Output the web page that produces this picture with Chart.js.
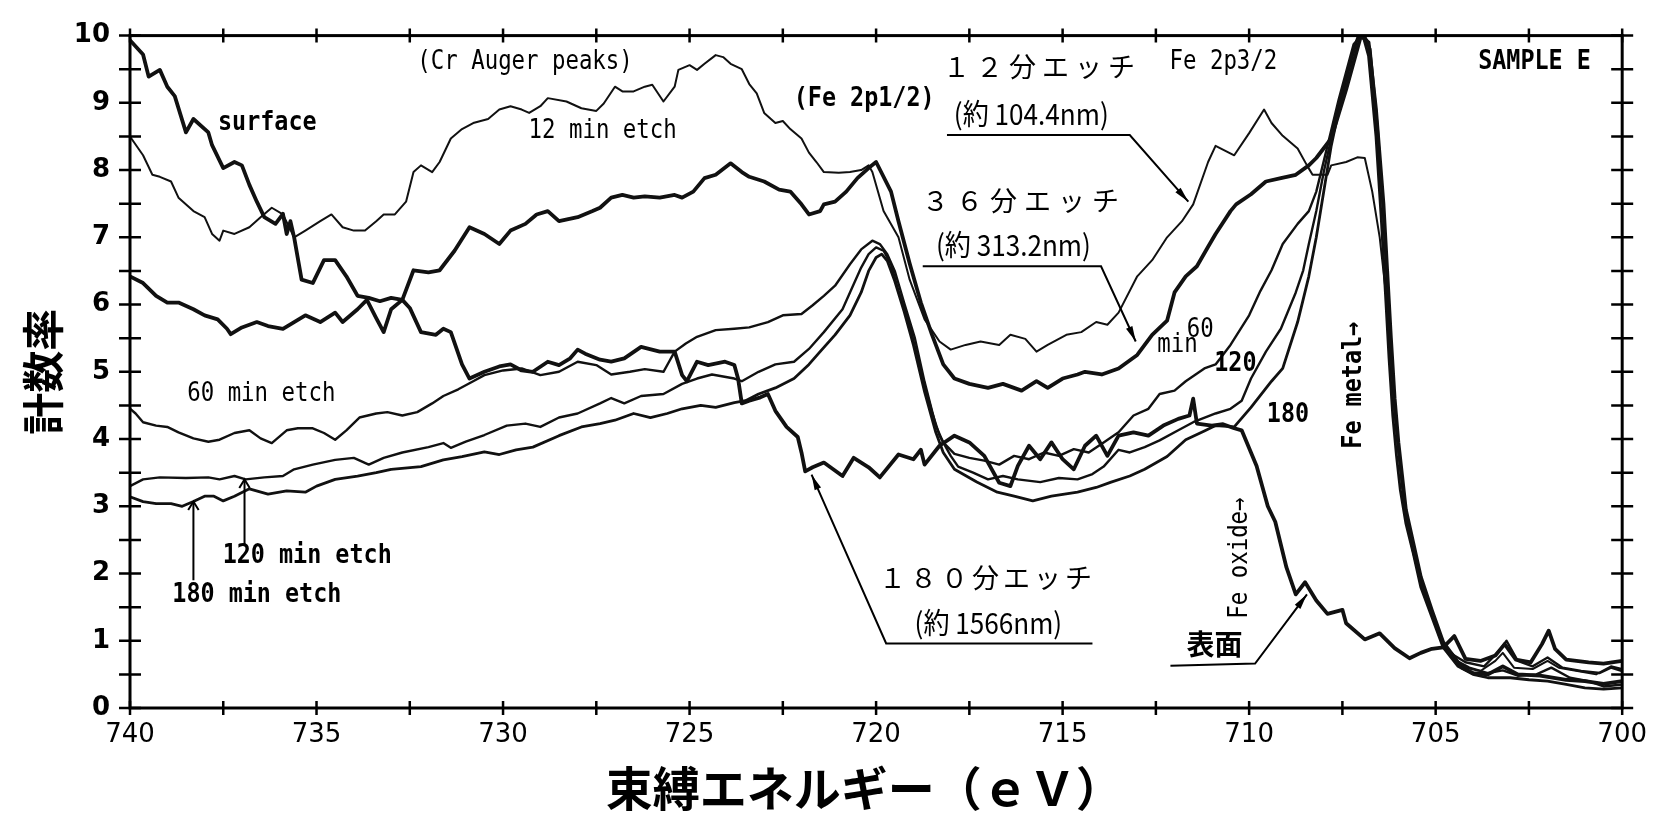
<!DOCTYPE html>
<html lang="ja">
<head>
<meta charset="UTF-8">
<title>SAMPLE E - Fe 2p XPS depth profile</title>
<script src="https://cdn.jsdelivr.net/npm/chart.js"></script>
<style>
    html, body { margin: 0; padding: 0; background: #fff; }
    #xps-chart { display: block; }
</style>
</head>
<body>
<canvas id="xps-chart" width="1659" height="816"></canvas>
<script>
    // binding energy (eV) and count rate
    const surfaceEv = [740.0, 739.65, 739.5, 739.2, 739.0, 738.8, 738.5, 738.3, 737.9, 737.8, 737.5, 737.2, 737.0, 736.8, 736.6, 736.4, 736.1, 735.9, 735.8, 735.7, 735.6, 735.4, 735.1, 734.8, 734.5, 734.2, 733.9, 733.6, 733.3, 733.0, 732.7, 732.5, 732.2, 731.8, 731.6, 731.4, 731.1, 730.9, 730.5, 730.1, 729.8, 729.5, 729.2, 728.8, 728.5, 728.2, 728.0, 727.8, 727.4, 727.1, 726.75, 726.3, 725.8, 725.4, 725.2, 725.07, 724.8, 724.5, 724.05, 723.8, 723.7, 723.6, 723.4, 723.1, 722.9, 722.7, 722.4, 722.1, 722.0, 721.9, 721.7, 721.4, 720.9, 720.6, 720.2, 719.9, 719.4, 719.0, 718.8, 718.7, 718.3, 717.9, 717.5, 717.1, 716.7, 716.4, 716.2, 715.9, 715.6, 715.3, 715.0, 714.7, 714.4, 714.1, 713.8, 713.5, 713.1, 712.7, 712.3, 711.9, 711.6, 711.5, 711.4, 711.0, 710.7, 710.4, 710.2, 709.8, 709.5, 709.3, 709.0, 708.75, 708.5, 708.2, 707.9, 707.5, 707.4, 706.9, 706.5, 706.1, 705.7, 705.4, 705.1, 704.8, 704.5, 704.2, 703.8, 703.4, 703.15, 702.85, 702.45, 702.15, 701.97, 701.8, 701.5, 700.9, 700.5, 700.0];
    const surfaceCounts = [9.93, 9.72, 9.39, 9.49, 9.24, 9.1, 8.56, 8.76, 8.56, 8.37, 8.03, 8.12, 8.07, 7.78, 7.53, 7.3, 7.2, 7.35, 7.05, 7.24, 7.0, 6.37, 6.32, 6.66, 6.66, 6.42, 6.13, 6.1, 6.05, 6.1, 6.07, 5.95, 5.59, 5.55, 5.64, 5.59, 5.11, 4.9, 5.0, 5.08, 5.11, 5.02, 5.0, 5.15, 5.1, 5.2, 5.33, 5.27, 5.18, 5.15, 5.2, 5.37, 5.3, 5.3, 4.95, 4.86, 5.15, 5.1, 5.15, 5.1, 4.9, 4.53, 4.57, 4.62, 4.67, 4.42, 4.18, 4.03, 3.8, 3.52, 3.58, 3.65, 3.45, 3.72, 3.58, 3.43, 3.77, 3.7, 3.84, 3.62, 3.9, 4.05, 3.95, 3.75, 3.35, 3.3, 3.6, 3.9, 3.7, 3.95, 3.7, 3.55, 3.9, 4.05, 3.75, 4.05, 4.1, 4.05, 4.2, 4.3, 4.35, 4.6, 4.23, 4.2, 4.22, 4.16, 4.13, 3.6, 3.0, 2.77, 2.09, 1.69, 1.87, 1.6, 1.4, 1.46, 1.26, 1.02, 1.11, 0.89, 0.74, 0.82, 0.88, 0.9, 1.07, 0.73, 0.7, 0.78, 0.95, 0.72, 0.68, 0.95, 1.15, 0.88, 0.72, 0.68, 0.66, 0.7];

    const etch12Ev = [740.0, 739.65, 739.4, 739.2, 738.9, 738.7, 738.3, 738.0, 737.8, 737.6, 737.5, 737.2, 736.8, 736.5, 736.2, 735.9, 735.6, 735.3, 734.9, 734.6, 734.3, 734.0, 733.7, 733.4, 733.2, 732.9, 732.6, 732.4, 732.2, 731.9, 731.7, 731.4, 731.1, 730.8, 730.4, 730.1, 729.8, 729.5, 729.3, 729.0, 728.8, 728.3, 727.9, 727.5, 727.3, 727.0, 726.8, 726.5, 726.2, 726.0, 725.7, 725.4, 725.3, 725.0, 724.8, 724.6, 724.3, 724.1, 723.9, 723.6, 723.4, 723.2, 723.0, 722.7, 722.5, 722.3, 722.0, 721.8, 721.6, 721.4, 721.0, 720.7, 720.4, 720.2, 720.1, 719.8, 719.4, 719.1, 718.7, 718.3, 718.0, 717.6, 717.2, 716.7, 716.4, 716.0, 715.7, 715.4, 714.9, 714.5, 714.1, 713.8, 713.5, 713.0, 712.6, 712.2, 711.8, 711.5, 711.1, 710.9, 710.4, 710.0, 709.6, 709.4, 709.1, 708.7, 708.45, 708.3, 707.9, 707.8, 707.4, 707.1, 706.9, 706.7, 706.5, 706.3, 706.2, 706.1, 706.0, 705.9, 705.8, 705.6, 705.4, 705.1, 704.8, 704.5, 704.2, 703.8, 703.4, 703.2, 702.9, 702.4, 702.0, 701.7, 701.2, 700.7, 700.3, 700.0];
    const etch12Counts = [8.5, 8.22, 7.93, 7.9, 7.83, 7.59, 7.39, 7.3, 7.05, 6.95, 7.1, 7.05, 7.15, 7.3, 7.44, 7.34, 7.0, 7.1, 7.24, 7.34, 7.15, 7.1, 7.1, 7.24, 7.34, 7.34, 7.53, 7.97, 8.07, 7.97, 8.12, 8.47, 8.61, 8.7, 8.76, 8.9, 8.95, 8.9, 8.85, 8.95, 9.07, 9.02, 8.92, 8.88, 8.99, 9.24, 9.17, 9.17, 9.24, 9.27, 9.02, 9.24, 9.49, 9.56, 9.49, 9.58, 9.71, 9.68, 9.58, 9.5, 9.28, 9.14, 8.85, 8.7, 8.73, 8.61, 8.47, 8.26, 8.12, 7.97, 7.96, 7.97, 8.0, 8.07, 7.97, 7.39, 7.0, 6.37, 5.78, 5.45, 5.33, 5.4, 5.45, 5.4, 5.55, 5.49, 5.3, 5.4, 5.55, 5.59, 5.74, 5.7, 5.88, 6.42, 6.66, 7.0, 7.24, 7.49, 8.12, 8.36, 8.22, 8.55, 8.9, 8.7, 8.51, 8.32, 8.07, 7.93, 7.93, 8.07, 8.12, 8.19, 8.18, 7.68, 7.0, 6.0, 5.2, 4.4, 3.8, 3.3, 2.8, 2.3, 1.85, 1.4, 0.95, 0.72, 0.6, 0.55, 0.7, 0.82, 0.6, 0.58, 0.7, 0.6, 0.55, 0.5, 0.62, 0.58];

    const etch36Ev = [740.0, 739.65, 739.3, 739.0, 738.7, 738.3, 738.0, 737.65, 737.4, 737.3, 737.0, 736.6, 736.3, 735.9, 735.6, 735.3, 734.9, 734.5, 734.3, 733.9, 733.65, 733.4, 733.2, 733.0, 732.7, 732.4, 732.0, 731.7, 731.3, 730.9, 730.5, 730.1, 729.8, 729.4, 729.1, 728.8, 728.5, 728.0, 727.6, 727.4, 727.1, 726.8, 726.5, 726.2, 725.8, 725.4, 725.2, 724.9, 724.6, 724.3, 723.9, 723.6, 723.4, 723.0, 722.6, 722.3, 722.0, 721.8, 721.5, 721.4, 721.1, 720.8, 720.5, 720.2, 720.0, 719.6, 719.4, 719.1, 718.8, 718.5, 718.2, 717.9, 717.5, 717.0, 716.6, 716.1, 715.7, 715.4, 715.0, 714.6, 714.4, 713.95, 713.5, 713.0, 712.6, 712.2, 712.0, 711.7, 711.4, 711.1, 710.9, 710.5, 710.35, 709.95, 709.55, 709.15, 708.75, 708.4, 708.2, 707.8, 707.4, 707.0, 706.8, 706.6, 706.4, 706.3, 706.2, 706.1, 706.0, 705.9, 705.8, 705.6, 705.4, 705.1, 704.8, 704.3, 704.0, 703.6, 703.2, 702.8, 702.2, 701.5, 701.0, 700.5, 700.0];
    const etch36Counts = [6.42, 6.32, 6.13, 6.03, 6.03, 5.93, 5.84, 5.78, 5.64, 5.56, 5.66, 5.74, 5.68, 5.64, 5.74, 5.84, 5.74, 5.88, 5.74, 5.93, 6.07, 5.8, 5.59, 5.93, 6.07, 6.51, 6.48, 6.51, 6.8, 7.15, 7.05, 6.9, 7.1, 7.2, 7.34, 7.39, 7.24, 7.3, 7.39, 7.44, 7.59, 7.63, 7.59, 7.61, 7.59, 7.63, 7.59, 7.68, 7.88, 7.93, 8.1, 7.97, 7.9, 7.83, 7.71, 7.68, 7.49, 7.34, 7.39, 7.49, 7.53, 7.68, 7.88, 8.03, 8.12, 7.68, 7.24, 6.61, 6.03, 5.55, 5.11, 4.9, 4.82, 4.76, 4.82, 4.72, 4.86, 4.76, 4.9, 4.96, 5.0, 4.96, 5.05, 5.25, 5.55, 5.76, 6.18, 6.42, 6.57, 6.86, 7.05, 7.39, 7.49, 7.64, 7.83, 7.88, 7.93, 8.07, 8.18, 8.47, 9.2, 10.0, 9.9, 8.9, 7.5, 6.5, 5.5, 4.6, 3.95, 3.45, 2.95, 2.45, 1.95, 1.45, 0.98, 0.6, 0.52, 0.5, 0.62, 0.5, 0.48, 0.42, 0.4, 0.36, 0.4];

    const etch60Ev = [740.0, 739.85, 739.65, 739.3, 739.0, 738.7, 738.3, 737.9, 737.6, 737.2, 736.8, 736.5, 736.2, 735.8, 735.5, 735.1, 734.8, 734.5, 734.2, 733.85, 733.4, 733.1, 732.7, 732.3, 731.9, 731.6, 731.2, 730.8, 730.5, 730.0, 729.5, 729.0, 728.5, 728.0, 727.5, 727.1, 726.6, 726.2, 725.7, 725.55, 725.4, 725.1, 724.8, 724.3, 723.8, 723.4, 722.9, 722.5, 722.0, 721.7, 721.4, 721.1, 720.7, 720.4, 720.1, 719.9, 719.7, 719.5, 719.25, 718.96, 718.7, 718.4, 718.2, 717.9, 717.5, 717.1, 716.7, 716.3, 715.9, 715.5, 715.1, 714.7, 714.3, 713.9, 713.5, 713.1, 712.7, 712.4, 712.0, 711.7, 711.2, 710.9, 710.5, 710.0, 709.7, 709.4, 709.1, 708.7, 708.4, 708.2, 707.9, 707.6, 707.2, 707.0, 706.8, 706.6, 706.4, 706.3, 706.2, 706.1, 706.0, 705.9, 705.8, 705.6, 705.4, 705.1, 704.8, 704.5, 704.2, 703.7, 703.3, 703.1, 702.8, 702.4, 702.0, 701.6, 701.1, 700.6, 700.3, 700.0];
    const etch60Counts = [4.45, 4.38, 4.25, 4.2, 4.18, 4.1, 4.01, 3.96, 3.99, 4.09, 4.13, 4.01, 3.94, 4.13, 4.16, 4.16, 4.09, 3.99, 4.13, 4.32, 4.38, 4.4, 4.35, 4.4, 4.53, 4.64, 4.74, 4.86, 4.95, 5.02, 5.05, 4.95, 5.0, 5.15, 5.1, 4.96, 5.0, 5.04, 5.0, 5.15, 5.3, 5.42, 5.52, 5.62, 5.64, 5.66, 5.74, 5.84, 5.86, 5.99, 6.13, 6.28, 6.6, 6.82, 6.95, 6.9, 6.75, 6.5, 6.03, 5.5, 4.85, 4.2, 3.95, 3.78, 3.72, 3.68, 3.62, 3.75, 3.7, 3.8, 3.75, 3.85, 3.8, 3.95, 4.1, 4.35, 4.45, 4.67, 4.72, 4.86, 5.05, 5.11, 5.4, 5.84, 6.2, 6.51, 6.9, 7.2, 7.39, 7.68, 8.36, 9.05, 9.87, 10.0, 9.85, 8.8, 7.4, 6.4, 5.4, 4.5, 3.9, 3.4, 2.9, 2.4, 1.9, 1.42, 0.95, 0.78, 0.68, 0.62, 0.85, 1.0, 0.7, 0.62, 0.75, 0.6, 0.55, 0.52, 0.6, 0.55];

    const etch120Ev = [740.0, 739.65, 739.2, 738.5, 737.9, 737.6, 737.2, 736.9, 736.4, 735.9, 735.6, 735.1, 734.5, 734.0, 733.6, 733.2, 732.7, 732.0, 731.6, 731.4, 731.0, 730.5, 729.9, 729.4, 729.0, 728.5, 728.0, 727.4, 727.1, 726.75, 726.3, 725.7, 725.2, 724.8, 724.4, 723.8, 723.6, 723.15, 722.7, 722.2, 721.8, 721.4, 720.9, 720.7, 720.4, 720.2, 720.0, 719.8, 719.6, 719.4, 719.1, 718.8, 718.5, 718.3, 718.0, 717.8, 717.4, 717.0, 716.6, 716.2, 715.6, 715.1, 714.6, 714.2, 713.9, 713.5, 713.2, 712.8, 712.4, 711.9, 711.5, 710.9, 710.5, 710.2, 709.95, 709.55, 709.15, 708.75, 708.55, 708.4, 708.2, 708.0, 707.8, 707.5, 707.1, 706.9, 706.75, 706.55, 706.4, 706.3, 706.2, 706.1, 706.0, 705.9, 705.8, 705.6, 705.4, 705.1, 704.8, 704.5, 704.1, 703.6, 703.2, 702.8, 702.3, 701.9, 701.4, 700.9, 700.5, 700.0];
    const etch120Counts = [3.3, 3.4, 3.43, 3.42, 3.43, 3.4, 3.45, 3.4, 3.43, 3.45, 3.55, 3.62, 3.69, 3.72, 3.62, 3.72, 3.8, 3.88, 3.94, 3.87, 3.96, 4.06, 4.2, 4.23, 4.18, 4.32, 4.38, 4.53, 4.61, 4.53, 4.64, 4.67, 4.82, 4.9, 4.96, 4.9, 4.86, 5.0, 5.11, 5.15, 5.34, 5.59, 5.93, 6.18, 6.55, 6.75, 6.85, 6.8, 6.6, 6.2, 5.7, 5.0, 4.4, 4.05, 3.75, 3.59, 3.5, 3.4, 3.45, 3.4, 3.36, 3.42, 3.4, 3.48, 3.59, 3.84, 3.8, 3.88, 3.98, 4.13, 4.25, 4.38, 4.45, 4.57, 4.9, 5.3, 5.64, 6.18, 6.51, 6.9, 7.39, 7.97, 8.47, 9.2, 9.95, 10.0, 9.8, 8.6, 7.3, 6.3, 5.3, 4.45, 3.85, 3.35, 2.85, 2.35, 1.85, 1.38, 0.92, 0.72, 0.6, 0.52, 0.56, 0.48, 0.5, 0.6, 0.45, 0.4, 0.32, 0.35];

    const etch180Ev = [740.0, 739.65, 739.3, 738.9, 738.6, 738.3, 738.0, 737.75, 737.5, 737.2, 736.8, 736.3, 735.8, 735.3, 735.0, 734.5, 733.9, 733.4, 733.0, 732.2, 731.6, 731.1, 730.5, 730.1, 729.65, 729.2, 728.5, 727.9, 727.4, 727.0, 726.5, 726.05, 725.6, 725.2, 724.7, 724.3, 723.8, 723.5, 723.15, 722.7, 722.2, 721.8, 721.5, 721.1, 720.7, 720.4, 720.2, 720.0, 719.85, 719.7, 719.5, 719.25, 719.0, 718.7, 718.4, 718.2, 717.9, 717.3, 716.75, 716.3, 715.8, 715.3, 714.6, 714.1, 713.7, 713.2, 712.8, 712.2, 711.7, 711.2, 710.9, 710.4, 709.95, 709.4, 709.1, 708.7, 708.4, 708.2, 708.0, 707.8, 707.5, 707.1, 706.95, 706.8, 706.6, 706.45, 706.35, 706.25, 706.15, 706.05, 705.95, 705.8, 705.6, 705.4, 705.1, 704.8, 704.4, 704.0, 703.6, 703.0, 702.5, 702.0, 701.5, 701.0, 700.5, 700.0];
    const etch180Counts = [3.14, 3.07, 3.04, 3.04, 3.0, 3.07, 3.15, 3.15, 3.08, 3.15, 3.26, 3.18, 3.23, 3.21, 3.3, 3.4, 3.45, 3.5, 3.55, 3.59, 3.69, 3.74, 3.81, 3.77, 3.84, 3.88, 4.05, 4.18, 4.23, 4.28, 4.38, 4.32, 4.38, 4.45, 4.5, 4.47, 4.54, 4.57, 4.67, 4.76, 4.9, 5.11, 5.3, 5.55, 5.84, 6.18, 6.5, 6.7, 6.75, 6.65, 6.35, 5.9, 5.4, 4.7, 4.1, 3.8, 3.55, 3.36, 3.21, 3.15, 3.08, 3.15, 3.21, 3.28, 3.36, 3.45, 3.55, 3.74, 3.99, 4.12, 4.2, 4.18, 4.47, 4.86, 5.05, 5.74, 6.42, 7.0, 7.68, 8.36, 9.14, 9.96, 10.0, 9.7, 8.5, 7.2, 6.2, 5.2, 4.35, 3.75, 3.25, 2.75, 2.3, 1.8, 1.35, 0.9, 0.62, 0.5, 0.45, 0.45, 0.42, 0.4, 0.35, 0.3, 0.28, 0.3];

    const seriesNames = ['surface', '12 min etch', '36 min etch', '60 min etch', '120 min etch', '180 min etch'];
    const xTitle = '束縛エネルギー（ｅＶ）　';
    const yTitle = '計数率';

    // annotation texts (placed in data units)
    const notes = [
        { text: '(Cr Auger peaks)', ev: 729.41, v: 9.61, kind: 'mono' },
        { text: 'surface', ev: 736.32, v: 8.7, kind: 'monoBold' },
        { text: '12 min etch', ev: 727.33, v: 8.58, kind: 'mono' },
        { text: '(Fe 2p1/2)', ev: 720.32, v: 9.06, kind: 'monoBold' },
        { text: 'Fe 2p3/2', ev: 710.69, v: 9.6, kind: 'mono' },
        { text: 'SAMPLE E', ev: 702.35, v: 9.6, kind: 'monoBold' },
        { text: '60 min etch', ev: 736.48, v: 4.67, kind: 'mono' },
        { text: '120 min etch', ev: 735.25, v: 2.26, kind: 'monoBold' },
        { text: '180 min etch', ev: 736.6, v: 1.68, kind: 'monoBold' },
        { text: '60', ev: 711.31, v: 5.62, kind: 'mono' },
        { text: 'min', ev: 711.92, v: 5.40, kind: 'mono' },
        { text: '120', ev: 710.37, v: 5.11, kind: 'monoBold' },
        { text: '180', ev: 708.96, v: 4.35, kind: 'monoBold' },
        { text: 'Fe metal→', ev: 707.17, v: 4.8, kind: 'monoBold', rotate: true },
        { text: 'Fe oxide→', ev: 710.25, v: 2.23, kind: 'mono', rotate: true },
        { text: '表面', ev: 710.93, v: 0.95, kind: 'jpBold' },
        { text: '１２分エッチ', ev: 715.63, v: 9.53, kind: 'jpSpaced', step: 33 },
        { text: '(約 104.4nm)', ev: 715.84, v: 8.83, kind: 'jp' },
        { text: '３６分エッチ', ev: 716.13, v: 7.55, kind: 'jpSpaced', step: 34 },
        { text: '(約 313.2nm)', ev: 716.32, v: 6.89, kind: 'jp' },
        { text: '１８０分エッチ', ev: 717.07, v: 1.94, kind: 'jpSpaced', step: 31 },
        { text: '(約 1566nm)', ev: 716.99, v: 1.26, kind: 'jp' }
    ];

    // leader lines, arrow head at the last point
    const leaders = [
        { pts: [[718.1, 8.52], [713.2, 8.52], [711.63, 7.53]], head: 'solid' },
        { pts: [[718.75, 6.57], [713.97, 6.57], [713.04, 5.45]], head: 'solid' },
        { pts: [[714.2, 0.96], [719.73, 0.96], [721.73, 3.47]], head: 'solid' },
        { pts: [[712.11, 0.63], [709.84, 0.66], [708.45, 1.69]], head: 'solid' },
        { pts: [[736.93, 2.42], [736.93, 3.4]], head: 'open' },
        { pts: [[738.3, 1.9], [738.3, 3.07]], head: 'open' }
    ];

    const noteFonts = {
        mono: { font: '26px "DejaVu Sans Mono"', sx: 0.86 },
        monoBold: { font: 'bold 26px "DejaVu Sans Mono"', sx: 0.9 },
        jp: { font: '29px "Noto Sans CJK JP"', sx: 0.9 },
        jpBold: { font: 'bold 28px "Noto Sans CJK JP"', sx: 1 },
        jpSpaced: { font: '27px "Noto Sans CJK JP"', sx: 1 }
    };

    function toPoints(ev, counts) {
        return ev.map((x, i) => ({ x: x, y: counts[i] }));
    }

    function drawHead(ctx, x1, y1, x2, y2, type) {
        const ang = Math.atan2(y2 - y1, x2 - x1);
        const len = type === 'open' ? 10 : 16;
        const spread = type === 'open' ? 0.55 : 0.22;
        const ax = x2 - len * Math.cos(ang - spread), ay = y2 - len * Math.sin(ang - spread);
        const bx = x2 - len * Math.cos(ang + spread), by = y2 - len * Math.sin(ang + spread);
        ctx.beginPath();
        if (type === 'open') {
            ctx.moveTo(ax, ay); ctx.lineTo(x2, y2); ctx.lineTo(bx, by);
            ctx.stroke();
        } else {
            ctx.moveTo(ax, ay); ctx.lineTo(x2, y2); ctx.lineTo(bx, by); ctx.closePath();
            ctx.fill();
        }
    }

    const framePlugin = {
        id: 'frame',
        afterDatasetsDraw(chart) {
            const { ctx, chartArea: a, scales: { x, y } } = chart;
            ctx.save();
            ctx.strokeStyle = '#000';
            ctx.lineWidth = 3;
            ctx.strokeRect(a.left, a.top, a.right - a.left, a.bottom - a.top);
            ctx.lineWidth = 2.5;
            ctx.beginPath();
            for (let v = 0; v <= 10; v += 0.5) {
                const py = y.getPixelForValue(v);
                ctx.moveTo(a.left - 11, py); ctx.lineTo(a.left + 11, py);
                ctx.moveTo(a.right - 11, py); ctx.lineTo(a.right + 11, py);
            }
            for (let e = 700; e <= 740; e += 2.5) {
                const px = x.getPixelForValue(e);
                ctx.moveTo(px, a.bottom - 7); ctx.lineTo(px, a.bottom + 7);
                ctx.moveTo(px, a.top - 7); ctx.lineTo(px, a.top + 7);
            }
            ctx.stroke();
            ctx.restore();
        }
    };

    const notePlugin = {
        id: 'notes',
        afterDatasetsDraw(chart) {
            const { ctx, scales: { x, y } } = chart;
            ctx.save();
            ctx.fillStyle = '#000';
            ctx.strokeStyle = '#000';
            ctx.textAlign = 'center';
            ctx.textBaseline = 'middle';
            notes.forEach(n => {
                const f = noteFonts[n.kind];
                const px = x.getPixelForValue(n.ev), py = y.getPixelForValue(n.v);
                ctx.save();
                ctx.translate(px, py);
                if (n.rotate) ctx.rotate(-Math.PI / 2);
                ctx.scale(f.sx, 1);
                ctx.font = f.font;
                if (n.step) {
                    const chars = Array.from(n.text);
                    chars.forEach((c, i) => {
                        ctx.fillText(c, (i - (chars.length - 1) / 2) * n.step, 0);
                    });
                } else {
                    ctx.fillText(n.text, 0, 0);
                }
                ctx.restore();
            });
            ctx.lineWidth = 2;
            leaders.forEach(l => {
                const p = l.pts.map(q => [x.getPixelForValue(q[0]), y.getPixelForValue(q[1])]);
                ctx.beginPath();
                ctx.moveTo(p[0][0], p[0][1]);
                for (let i = 1; i < p.length; i++) ctx.lineTo(p[i][0], p[i][1]);
                ctx.stroke();
                const n = p.length;
                drawHead(ctx, p[n - 2][0], p[n - 2][1], p[n - 1][0], p[n - 1][1], l.head);
            });
            ctx.restore();
        }
    };

    const lineStyle = (label, data, width) => ({
        label: label,
        data: data,
        borderColor: '#111',
        borderWidth: width,
        pointRadius: 0,
        tension: 0,
        fill: false,
        borderJoinStyle: 'round'
    });

    new Chart(document.getElementById('xps-chart').getContext('2d'), {
        type: 'line',
        data: {
            datasets: [
                lineStyle(seriesNames[0], toPoints(surfaceEv, surfaceCounts), 3.8),
                lineStyle(seriesNames[1], toPoints(etch12Ev, etch12Counts), 2),
                lineStyle(seriesNames[2], toPoints(etch36Ev, etch36Counts), 3.8),
                lineStyle(seriesNames[3], toPoints(etch60Ev, etch60Counts), 2.4),
                lineStyle(seriesNames[4], toPoints(etch120Ev, etch120Counts), 2.4),
                lineStyle(seriesNames[5], toPoints(etch180Ev, etch180Counts), 2.8)
            ]
        },
        options: {
            responsive: false,
            animation: false,
            layout: { padding: { left: 0, right: 29, top: 22, bottom: 0 } },
            plugins: { legend: { display: false }, tooltip: { enabled: false } },
            scales: {
                x: {
                    type: 'linear',
                    reverse: true,
                    min: 700,
                    max: 740,
                    grid: { display: false, drawTicks: false },
                    border: { display: false },
                    ticks: {
                        stepSize: 2.5,
                        autoSkip: false,
                        maxRotation: 0,
                        padding: 12,
                        color: '#000',
                        font: { family: 'DejaVu Sans', size: 26 },
                        callback: v => (v % 5 === 0 ? String(v) : '')
                    },
                    title: {
                        display: true,
                        text: xTitle,
                        color: '#000',
                        font: { family: '"Noto Sans CJK JP"', size: 47, weight: 'bold' },
                        padding: { top: 0, bottom: 0 }
                    },
                    afterFit: s => { s.height = 108; }
                },
                y: {
                    min: 0,
                    max: 10,
                    grid: { display: false, drawTicks: false },
                    border: { display: false },
                    ticks: {
                        stepSize: 0.5,
                        autoSkip: false,
                        padding: 20,
                        color: '#000',
                        font: { family: 'DejaVu Sans', size: 26, weight: 'bold' },
                        callback: v => (Number.isInteger(v) ? String(v) : '')
                    },
                    title: {
                        display: true,
                        text: yTitle,
                        color: '#000',
                        font: { family: '"Noto Sans CJK JP"', size: 42, weight: 'bold' },
                        padding: { top: 18, bottom: 0 }
                    },
                    afterFit: s => { s.width = 130; }
                }
            }
        },
        plugins: [framePlugin, notePlugin]
    });
</script>
</body>
</html>
